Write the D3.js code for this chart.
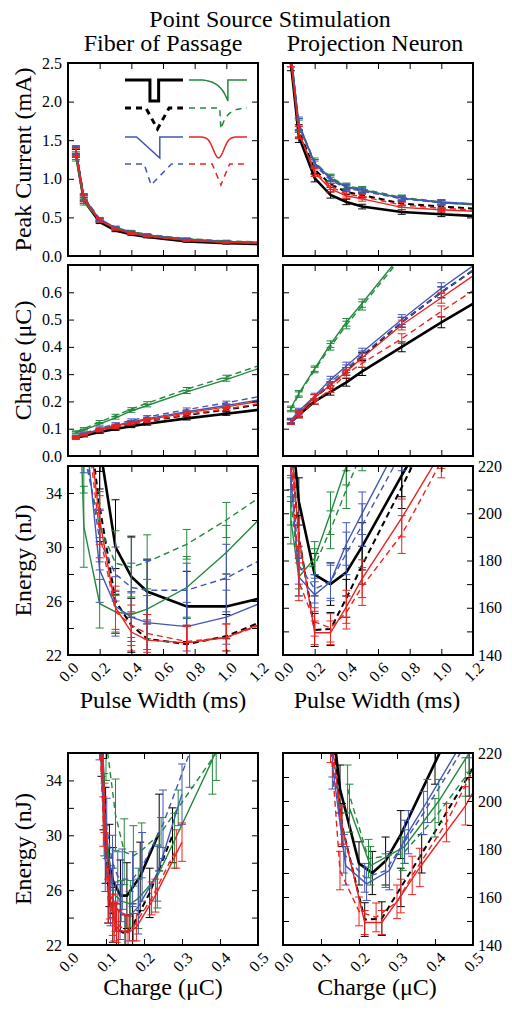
<!DOCTYPE html>
<html><head><meta charset="utf-8">
<script src="https://cdn.jsdelivr.net/npm/d3@7"></script>
<style>
body{margin:0;background:#fff}
svg{display:block}
</style>
</head><body>
<svg id="chart" width="512" height="1014"></svg>
<script>
// ---------- data ----------
const pulseWidths = [0.05, 0.1, 0.2, 0.3, 0.4, 0.5, 0.75, 1.0, 1.5, 2.0];
// series order: rect (black solid), triangle (black dashed), exp (green solid), exp rev (green dashed),
// ramp down (blue solid), ramp up (blue dashed), gaussian (red solid), gaussian narrow (red dashed)
const seriesNames = ["Rectangular", "Triangular", "Exponential", "Reversed exponential", "Ramp down", "Ramp up", "Gaussian", "Narrow Gaussian"];

// Fiber of Passage
const fopCurrent = [
  [1.33, 0.72, 0.44, 0.33, 0.28, 0.245, 0.19, 0.165, 0.14, 0.125],
  [1.36, 0.75, 0.46, 0.35, 0.30, 0.26, 0.20, 0.175, 0.15, 0.13],
  [1.28, 0.70, 0.46, 0.36, 0.31, 0.27, 0.22, 0.19, 0.16, 0.14],
  [1.30, 0.72, 0.47, 0.37, 0.32, 0.28, 0.225, 0.195, 0.165, 0.145],
  [1.37, 0.76, 0.47, 0.36, 0.30, 0.265, 0.21, 0.18, 0.155, 0.135],
  [1.38, 0.77, 0.48, 0.37, 0.31, 0.27, 0.215, 0.185, 0.16, 0.14],
  [1.34, 0.74, 0.46, 0.35, 0.29, 0.255, 0.20, 0.175, 0.15, 0.13],
  [1.35, 0.75, 0.465, 0.355, 0.295, 0.26, 0.205, 0.18, 0.155, 0.135]
];
const fopCurrentErr = [0.05, 0.04, 0.02, 0.015, 0.012, 0.01, 0.01, 0.01, 0.01, 0.01];
const fopCharge = [
  [0.066, 0.074, 0.088, 0.099, 0.109, 0.118, 0.138, 0.155, 0.19, 0.24],
  [0.068, 0.077, 0.093, 0.106, 0.118, 0.128, 0.150, 0.170, 0.215, 0.275],
  [0.085, 0.095, 0.118, 0.14, 0.165, 0.185, 0.235, 0.28, 0.38, 0.46],
  [0.088, 0.10, 0.125, 0.148, 0.172, 0.194, 0.245, 0.29, 0.39, 0.47],
  [0.07, 0.08, 0.098, 0.112, 0.125, 0.137, 0.162, 0.185, 0.235, 0.30],
  [0.072, 0.083, 0.102, 0.117, 0.131, 0.143, 0.170, 0.195, 0.25, 0.32],
  [0.069, 0.079, 0.096, 0.11, 0.122, 0.133, 0.158, 0.18, 0.23, 0.30],
  [0.068, 0.077, 0.093, 0.106, 0.118, 0.128, 0.152, 0.172, 0.22, 0.285]
];
const fopChargeErr = [0.004, 0.004, 0.005, 0.005, 0.005, 0.005, 0.006, 0.006, 0.006, 0.006];
const fopEnergy = [
  [60, 45, 37.5, 30.0, 27.8, 26.7, 25.6, 25.6, 27.0, 30.2],
  [55, 42, 33, 26.0, 24.2, 23.2, 22.8, 23.4, 25.8, 30.0],
  [50, 31.5, 25.8, 25.2, 25.0, 25.4, 27.0, 29.6, 35.5, 42],
  [55, 37, 31.5, 28.8, 28.5, 28.9, 30.2, 32.0, 36.0, 41],
  [55, 40, 28.3, 25.6, 24.8, 24.4, 24.1, 24.8, 27.2, 33.0],
  [52, 38, 30.5, 28.0, 27.0, 26.8, 26.8, 27.7, 30.8, 36.0],
  [55, 42, 32, 25.5, 23.7, 23.1, 22.9, 23.3, 25.6, 29.5],
  [54, 41, 31, 25.2, 24.2, 23.6, 23.0, 23.3, 25.4, 29.0]
];
const fopEnergyErr = [
  [3.0, 3.0, 3.2, 3.5, 3.0, 2.4, 2.6, 2.4, 2.5, 2.8],
  [2.5, 2.5, 2.6, 2.4, 2.0, 1.8, 1.4, 1.6, 1.8, 2.0],
  [3.0, 3.0, 1.8, 1.5, 1.7, 2.2, 2.3, 2.0, 2.5, 2.5],
  [3.0, 3.0, 2.6, 2.4, 2.2, 2.0, 1.1, 1.3, 2.0, 2.0],
  [2.5, 2.5, 2.4, 2.2, 1.8, 2.0, 1.8, 2.0, 2.0, 2.2],
  [2.5, 2.5, 2.2, 2.0, 1.8, 2.2, 2.0, 2.5, 2.5, 2.5],
  [2.0, 2.0, 1.8, 1.6, 1.4, 1.4, 1.2, 1.0, 1.2, 1.4],
  [2.0, 2.0, 1.8, 1.6, 1.5, 1.4, 1.2, 1.0, 1.2, 1.4]
];

// Projection Neuron
const pnCurrent = [
  [2.5, 1.55, 1.01, 0.79, 0.70, 0.64, 0.57, 0.54, 0.49, 0.46],
  [2.6, 1.62, 1.12, 0.93, 0.83, 0.79, 0.68, 0.64, 0.58, 0.55],
  [2.6, 1.68, 1.20, 1.01, 0.90, 0.86, 0.75, 0.69, 0.62, 0.58],
  [2.65, 1.70, 1.22, 1.02, 0.91, 0.87, 0.76, 0.70, 0.63, 0.59],
  [2.6, 1.72, 1.20, 1.00, 0.89, 0.85, 0.75, 0.70, 0.64, 0.60],
  [2.6, 1.70, 1.18, 0.98, 0.88, 0.84, 0.74, 0.69, 0.63, 0.59],
  [2.55, 1.60, 1.08, 0.87, 0.78, 0.74, 0.63, 0.60, 0.55, 0.52],
  [2.55, 1.60, 1.10, 0.90, 0.80, 0.77, 0.66, 0.62, 0.56, 0.53]
];
const pnCurrentErr = [0.1, 0.08, 0.05, 0.04, 0.035, 0.03, 0.03, 0.03, 0.03, 0.03];
const pnCharge = [
  [0.125, 0.15, 0.20, 0.235, 0.27, 0.31, 0.40, 0.49, 0.66, 0.84],
  [0.128, 0.155, 0.215, 0.26, 0.31, 0.365, 0.49, 0.60, 0.80, 1.0],
  [0.175, 0.23, 0.32, 0.41, 0.49, 0.56, 0.74, 0.90, 1.2, 1.5],
  [0.17, 0.225, 0.315, 0.40, 0.48, 0.55, 0.73, 0.89, 1.18, 1.48],
  [0.13, 0.165, 0.22, 0.28, 0.33, 0.38, 0.50, 0.615, 0.82, 1.02],
  [0.13, 0.16, 0.215, 0.27, 0.32, 0.37, 0.49, 0.60, 0.80, 1.0],
  [0.125, 0.155, 0.215, 0.26, 0.31, 0.36, 0.48, 0.58, 0.78, 0.98],
  [0.125, 0.15, 0.20, 0.245, 0.30, 0.34, 0.43, 0.53, 0.72, 0.90]
];
const pnChargeErr = [0.008, 0.01, 0.01, 0.012, 0.014, 0.015, 0.018, 0.02, 0.02, 0.02];
const pnEnergy = [
  [240, 205, 174, 170, 175, 186, 216, 245, 300, 350],
  [230, 190, 150.6, 151, 164, 178, 211, 245, 300, 355],
  [197, 173, 181, 200, 220, 238, 280, 320, 400, 480],
  [205, 176, 178, 193, 210, 226, 265, 300, 380, 450],
  [215, 173, 165.5, 171, 187, 200, 232, 262, 320, 380],
  [220, 178, 168, 171, 183, 195, 226, 255, 310, 370],
  [230, 190, 149.4, 149.4, 160.4, 172.3, 198, 226, 280, 335],
  [225, 171, 154, 151.5, 158, 169, 191, 222, 275, 330]
];
const pnEnergyErr = [
  [12, 10, 9, 9, 10, 10, 9, 8, 8, 8],
  [10, 9, 7, 7, 8, 8, 9, 8, 8, 8],
  [10, 8, 7, 9, 8, 8, 8, 8, 8, 8],
  [10, 8, 7, 8, 8, 8, 8, 8, 8, 8],
  [10, 8, 7, 8, 9, 9, 8, 8, 8, 8],
  [10, 8, 6, 7, 9, 9, 8, 8, 8, 8],
  [9, 8, 5, 5, 7, 8, 8, 7, 7, 7],
  [9, 8, 6, 6, 7, 8, 8, 7, 7, 7]
];

// tick values / labels
const pwTicks = [0, 0.2, 0.4, 0.6, 0.8, 1.0, 1.2];
const qTicks = [0, 0.1, 0.2, 0.3, 0.4, 0.5];
const currentTicks = [0, 0.5, 1.0, 1.5, 2.0, 2.5];
const chargeYTicks = [0, 0.1, 0.2, 0.3, 0.4, 0.5, 0.6, 0.7];
const chargeYLabels = [0, 0.1, 0.2, 0.3, 0.4, 0.5, 0.6];
const fopEnergyTicks = [22, 24, 26, 28, 30, 32, 34, 36];
const fopEnergyLabels = [22, 26, 30, 34];
const pnEnergyTicks = [140, 150, 160, 170, 180, 190, 200, 210, 220];
const pnEnergyLabels = [140, 160, 180, 200, 220];

// styles
const seriesColor = ["#000000", "#000000", "#22893c", "#22893c", "#4356b4", "#4356b4", "#ea2320", "#ea2320"];
const seriesDashed = [false, true, false, true, false, true, false, true];
const seriesWidth = [2.6, 2.0, 1.4, 1.4, 1.4, 1.4, 1.4, 1.4];

// ---------- drawing ----------
const svg = d3.select("#chart");
const FONT = "'Liberation Serif', 'Times New Roman', Times, serif";
const colX = [68, 283], colW = 190;
const rows = [[63, 256], [265, 456], [466, 655], [753, 945]];
let clipId = 0;

function panel(opt) {
  const x0 = colX[opt.col], x1 = x0 + colW;
  const [y0, y1] = rows[opt.row];
  const x = d3.scaleLinear().domain(opt.xDomain).range([x0, x1]);
  const y = d3.scaleLinear().domain(opt.yDomain).range([y1, y0]);
  const g = svg.append("g");
  const id = "clip" + (clipId++);
  g.append("clipPath").attr("id", id).append("rect")
    .attr("x", x0).attr("y", y0).attr("width", x1 - x0).attr("height", y1 - y0);
  const plot = g.append("g").attr("clip-path", `url(#${id})`);

  opt.ys.forEach((ys, s) => {
    const xs = opt.xs[s];
    const pts = xs.map((xv, i) => [xv, ys[i], opt.errs[s][i]]);
    const sg = plot.append("g");
    pts.forEach(p => {
      const xp = x(p[0]), ya = y(p[1] - p[2]), yb = y(p[1] + p[2]);
      const eb = sg.append("g").attr("stroke", seriesColor[s]).attr("stroke-width", 1);
      eb.append("line").attr("x1", xp).attr("x2", xp).attr("y1", ya).attr("y2", yb);
      eb.append("line").attr("x1", xp - 4).attr("x2", xp + 4).attr("y1", ya).attr("y2", ya);
      eb.append("line").attr("x1", xp - 4).attr("x2", xp + 4).attr("y1", yb).attr("y2", yb);
    });
    sg.append("path").datum(pts)
      .attr("d", d3.line().x(d => x(d[0])).y(d => y(d[1])))
      .attr("fill", "none").attr("stroke", seriesColor[s])
      .attr("stroke-width", seriesWidth[s])
      .attr("stroke-dasharray", seriesDashed[s] ? "6,4" : null);
  });

  const tk = 6;
  const bottom = g.append("g").attr("transform", `translate(0,${y1})`)
    .call(d3.axisBottom(x).tickValues(opt.xTicks).tickSizeInner(-tk).tickSizeOuter(0)
      .tickFormat(opt.xLabels ? d3.format(".1f") : ""));
  g.append("g").attr("transform", `translate(0,${y0})`)
    .call(d3.axisTop(x).tickValues(opt.xTicks).tickSizeInner(-tk).tickSizeOuter(0).tickFormat(""));
  g.append("g").attr("transform", `translate(${x0},0)`)
    .call(d3.axisLeft(y).tickValues(opt.yTicks).tickSizeInner(-tk).tickSizeOuter(0).tickPadding(6)
      .tickFormat(opt.leftLabels ? (d => opt.leftLabels.includes(d) ? opt.leftFmt(d) : "") : ""));
  g.append("g").attr("transform", `translate(${x1},0)`)
    .call(d3.axisRight(y).tickValues(opt.yTicks).tickSizeInner(-tk).tickSizeOuter(0).tickPadding(5)
      .tickFormat(opt.rightLabels ? (d => opt.rightLabels.includes(d) ? d : "") : ""));
  g.selectAll(".domain").remove();
  g.selectAll(":scope > g").attr("font-family", null).attr("font-size", null);
  g.selectAll(".tick line").attr("stroke", "#000").attr("stroke-width", 1);
  g.selectAll(".tick text").style("font-family", FONT).style("font-size", "16px").attr("fill", "#000");
  if (opt.xLabels) {
    bottom.selectAll(".tick text")
      .attr("y", null).attr("dy", "0.35em")
      .attr("transform", "translate(0,17) rotate(-45)")
      .attr("text-anchor", "middle").style("font-size", "16px");
  }
  g.append("rect").attr("x", x0).attr("y", y0).attr("width", x1 - x0).attr("height", y1 - y0)
    .attr("fill", "none").attr("stroke", "#000").attr("stroke-width", 2);
  return { g, x, y };
}

const fmt1 = d3.format(".1f");
const pwRows = (arr) => arr.map(() => pulseWidths);

panel({ col: 0, row: 0, xDomain: [0, 1.2], yDomain: [0, 2.5], xTicks: pwTicks, xLabels: false,
  yTicks: currentTicks, leftLabels: currentTicks, leftFmt: fmt1,
  xs: pwRows(fopCurrent), ys: fopCurrent, errs: fopCurrent.map(() => fopCurrentErr) });
panel({ col: 1, row: 0, xDomain: [0, 1.2], yDomain: [0, 2.5], xTicks: pwTicks, xLabels: false,
  yTicks: currentTicks, xs: pwRows(pnCurrent), ys: pnCurrent, errs: pnCurrent.map(() => pnCurrentErr) });
panel({ col: 0, row: 1, xDomain: [0, 1.2], yDomain: [0, 0.7], xTicks: pwTicks, xLabels: false,
  yTicks: chargeYTicks, leftLabels: chargeYLabels, leftFmt: fmt1,
  xs: pwRows(fopCharge), ys: fopCharge, errs: fopCharge.map(() => fopChargeErr) });
panel({ col: 1, row: 1, xDomain: [0, 1.2], yDomain: [0, 0.7], xTicks: pwTicks, xLabels: false,
  yTicks: chargeYTicks, xs: pwRows(pnCharge), ys: pnCharge, errs: pnCharge.map(() => pnChargeErr) });
panel({ col: 0, row: 2, xDomain: [0, 1.2], yDomain: [22, 36], xTicks: pwTicks, xLabels: true,
  yTicks: fopEnergyTicks, leftLabels: fopEnergyLabels, leftFmt: d3.format("d"),
  xs: pwRows(fopEnergy), ys: fopEnergy, errs: fopEnergyErr });
panel({ col: 1, row: 2, xDomain: [0, 1.2], yDomain: [140, 220], xTicks: pwTicks, xLabels: true,
  yTicks: pnEnergyTicks, rightLabels: pnEnergyLabels,
  xs: pwRows(pnEnergy), ys: pnEnergy, errs: pnEnergyErr });
panel({ col: 0, row: 3, xDomain: [0, 0.5], yDomain: [22, 36], xTicks: qTicks, xLabels: true,
  yTicks: fopEnergyTicks, leftLabels: fopEnergyLabels, leftFmt: d3.format("d"),
  xs: fopCharge, ys: fopEnergy, errs: fopEnergyErr });
panel({ col: 1, row: 3, xDomain: [0, 0.5], yDomain: [140, 220], xTicks: qTicks, xLabels: true,
  yTicks: pnEnergyTicks, rightLabels: pnEnergyLabels,
  xs: pnCharge, ys: pnEnergy, errs: pnEnergyErr });

// ---------- legend (waveform icons) ----------
const iconW = 58, iconH = 21;
const legendCols = [125, 189], legendRows = [80, 108, 137, 164];
function expCurve(a, b, n, rising) {
  const pts = [];
  for (let i = 0; i <= n; i++) {
    const t = i / n;
    const v = rising ? (Math.exp(3 * t) - 1) / (Math.exp(3) - 1) : 1 - (1 - Math.exp(-4 * t)) / (1 - Math.exp(-4));
    pts.push([a + (b - a) * t, v]);
  }
  return pts;
}
function gaussCurve(c, s, n) {
  const pts = [];
  for (let i = 0; i <= n; i++) { const t = i / n; pts.push([t, Math.exp(-((t - c) ** 2) / (2 * s * s))]); }
  return pts;
}
const iconShapes = [
  [[0, 0], [0.43, 0], [0.43, 1], [0.58, 1], [0.58, 0], [1, 0]],
  [[0, 0], [0.36, 0], [0.56, 1], [0.76, 0], [1, 0]],
  [[0, 0], [0.24, 0], ...expCurve(0.24, 0.67, 20, true), [0.67, 0], [1, 0]],
  [[0, 0], [0.53, 0], [0.55, 1], ...expCurve(0.55, 1, 20, false)],
  [[0, 0], [0.2, 0], [0.6, 1], [0.6, 0], [1, 0]],
  [[0, 0], [0.33, 0], [0.45, 1], [0.8, 0], [1, 0]],
  gaussCurve(0.51, 0.09, 50),
  [[0, 0], [0.4, 0], [0.55, 1], [0.7, 0], [1, 0]]
];
const iconPos = [[0, 0], [0, 1], [1, 0], [1, 1], [0, 2], [0, 3], [1, 2], [1, 3]];
iconShapes.forEach((shape, s) => {
  const [c, r] = iconPos[s];
  const ix = d3.scaleLinear().domain([0, 1]).range([legendCols[c], legendCols[c] + iconW]);
  const iy = d3.scaleLinear().domain([0, 1]).range([legendRows[r], legendRows[r] + iconH]);
  svg.append("path").datum(shape)
    .attr("d", d3.line().x(d => ix(d[0])).y(d => iy(d[1])))
    .attr("fill", "none").attr("stroke", seriesColor[s])
    .attr("stroke-width", s < 2 ? 3 : 1.5)
    .attr("stroke-dasharray", seriesDashed[s] ? "6,5" : null);
});

// ---------- titles ----------
function txt(x, y, s, size, rot) {
  const t = svg.append("text").attr("x", x).attr("y", y).attr("text-anchor", "middle")
    .style("font-family", FONT).style("font-size", size + "px").attr("fill", "#000").text(s);
  if (rot) t.attr("transform", `rotate(-90,${x},${y})`);
  return t;
}
txt(270, 27, "Point Source Stimulation", 24);
txt(163, 51, "Fiber of Passage", 24);
txt(375, 51, "Projection Neuron", 24);
txt(31, (rows[0][0] + rows[0][1]) / 2, "Peak Current (mA)", 24, true);
txt(31, (rows[1][0] + rows[1][1]) / 2, "Charge (μC)", 24, true);
txt(31, (rows[2][0] + rows[2][1]) / 2, "Energy (nJ)", 24, true);
txt(31, (rows[3][0] + rows[3][1]) / 2, "Energy (nJ)", 24, true);
txt(163, 708, "Pulse Width (ms)", 24);
txt(377, 708, "Pulse Width (ms)", 24);
txt(163, 995, "Charge (μC)", 24);
txt(377, 995, "Charge (μC)", 24);
</script>
</body></html>
